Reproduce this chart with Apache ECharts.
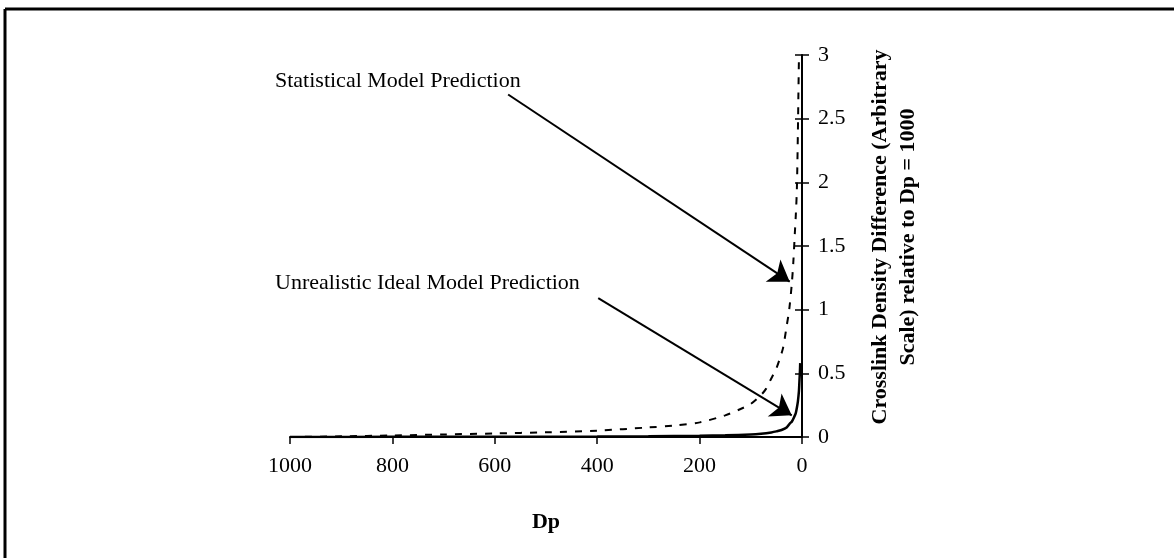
<!DOCTYPE html>
<html>
<head>
<meta charset="utf-8">
<script src="https://cdn.jsdelivr.net/npm/echarts@6/dist/echarts.min.js"></script>
<style>
html,body{margin:0;padding:0;background:#fff;}
#chart{width:1174px;height:558px;}
</style>
</head>
<body>
<div id="chart"></div>
<script>
// Statistical model prediction (dashed)
const statDp  = [1000, 900, 800, 700, 600, 500, 400, 300, 250, 200, 150, 120, 100, 80, 70, 60, 50, 43, 37, 30, 25, 20, 17, 14, 12, 10, 8, 7, 6];
const statVal = [0, 0.005, 0.012, 0.02, 0.028, 0.037, 0.05, 0.075, 0.09, 0.115, 0.17, 0.22, 0.26, 0.33, 0.38, 0.46, 0.54, 0.62, 0.7, 0.87, 1.0, 1.2, 1.37, 1.6, 1.75, 1.95, 2.4, 2.7, 2.97];
// Unrealistic ideal model prediction (solid)
const idealDp  = [1000, 800, 600, 400, 300, 200, 150, 100, 80, 60, 50, 40, 30, 23, 20, 15, 12, 10, 8, 6, 5, 4, 3.5];
const idealVal = [0, 0.001, 0.002, 0.004, 0.006, 0.01, 0.013, 0.02, 0.026, 0.036, 0.044, 0.055, 0.075, 0.11, 0.12, 0.16, 0.19, 0.23, 0.28, 0.36, 0.44, 0.52, 0.58];
// axis ticks
const xTicks = [0, 200, 400, 600, 800, 1000];
const yTicks = [0, 0.5, 1, 1.5, 2, 2.5, 3];
// annotation arrows: start [Dp, y] -> end [Dp, y]
const statArrow  = [[574, 2.69], [24, 1.22]];
const idealArrow = [[398, 1.09], [20, 0.17]];
const statLabel  = 'Statistical Model Prediction';
const idealLabel = 'Unrealistic Ideal Model Prediction';
const yName = 'Crosslink Density Difference (Arbitrary\nScale) relative to Dp = 1000';

const FONT = '"Liberation Serif", "Times New Roman", serif';

const chart = echarts.init(document.getElementById('chart'), null, {renderer: 'canvas'});

function pairs(a, b){ return a.map((v,i)=>[v,b[i]]); }

const xBase = {
  type: 'value', inverse: true,
  min: xTicks[0], max: xTicks[xTicks.length-1], interval: 200,
  splitLine: {show: false}
};
const yBase = {
  type: 'value', position: 'right',
  min: yTicks[0], max: yTicks[yTicks.length-1], interval: 0.5,
  splitLine: {show: false}
};

chart.setOption({
  animation: false,
  backgroundColor: '#fff',
  color: ['#000'],
  grid: {left: 290, right: 372, top: 55, bottom: 121},
  xAxis: [
    Object.assign({}, xBase, {
      name: 'Dp', nameLocation: 'middle', nameGap: 74,
      nameTextStyle: {fontFamily: FONT, fontWeight: 'bold', fontSize: 22, color: '#000'},
      axisLine: {show: true, lineStyle: {color: '#000', width: 2}},
      axisTick: {show: true, inside: false, length: 7, lineStyle: {color: '#000', width: 1.5}},
      axisLabel: {show: true, margin: 18, fontFamily: FONT, fontSize: 22, color: '#000',
                  formatter: v => String(v)}
    }),
    Object.assign({}, xBase, {
      axisLine: {show: false},
      axisTick: {show: true, inside: true, length: 7, lineStyle: {color: '#000', width: 1.5}},
      axisLabel: {show: false}
    })
  ],
  yAxis: [
    Object.assign({}, yBase, {
      axisLine: {show: true, lineStyle: {color: '#000', width: 2}},
      axisTick: {show: true, inside: false, length: 7, lineStyle: {color: '#000', width: 1.5}},
      axisLabel: {show: true, margin: 16, fontFamily: FONT, fontSize: 22, color: '#000',
                  formatter: v => String(v)}
    }),
    Object.assign({}, yBase, {
      axisLine: {show: false},
      axisTick: {show: true, inside: true, length: 7, lineStyle: {color: '#000', width: 1.5}},
      axisLabel: {show: false}
    })
  ],
  series: [
    {
      name: statLabel,
      type: 'line', xAxisIndex: 0, yAxisIndex: 0,
      data: pairs(statDp, statVal),
      showSymbol: false, smooth: 0.3,
      itemStyle: {color: '#000'},
      lineStyle: {color: '#000', width: 2, type: [7, 8]},
      z: 3
    },
    {
      name: idealLabel,
      type: 'line', xAxisIndex: 0, yAxisIndex: 0,
      data: pairs(idealDp, idealVal),
      showSymbol: false, smooth: 0.3,
      itemStyle: {color: '#000'},
      lineStyle: {color: '#000', width: 2.5, type: 'solid'},
      z: 3
    },
    {
      name: 'arrows',
      type: 'lines', coordinateSystem: 'cartesian2d', xAxisIndex: 0, yAxisIndex: 0,
      silent: true, z: 4,
      symbol: ['none', 'arrow'], symbolSize: 20,
      lineStyle: {color: '#000', width: 2, opacity: 1, type: 'solid'},
      itemStyle: {color: '#000'},
      data: [
        {coords: statArrow},
        {coords: idealArrow}
      ]
    }
  ],
  graphic: [
    {type: 'line', shape: {x1: 5, y1: 9, x2: 1174, y2: 9}, style: {stroke: '#000', lineWidth: 3}},
    {type: 'line', shape: {x1: 5, y1: 9, x2: 5, y2: 558}, style: {stroke: '#000', lineWidth: 3}},
    {type: 'text', left: 275, top: 70,
     style: {text: statLabel, font: '22px ' + FONT, fill: '#000'}},
    {type: 'text', left: 275, top: 272,
     style: {text: idealLabel, font: '22px ' + FONT, fill: '#000'}},
    {type: 'text', x: 866, y: 237, rotation: Math.PI/2,
     style: {text: yName,
             font: 'bold 22px ' + FONT, fill: '#000', align: 'center', verticalAlign: 'top', lineHeight: 28}}
  ]
});
</script>
</body>
</html>
